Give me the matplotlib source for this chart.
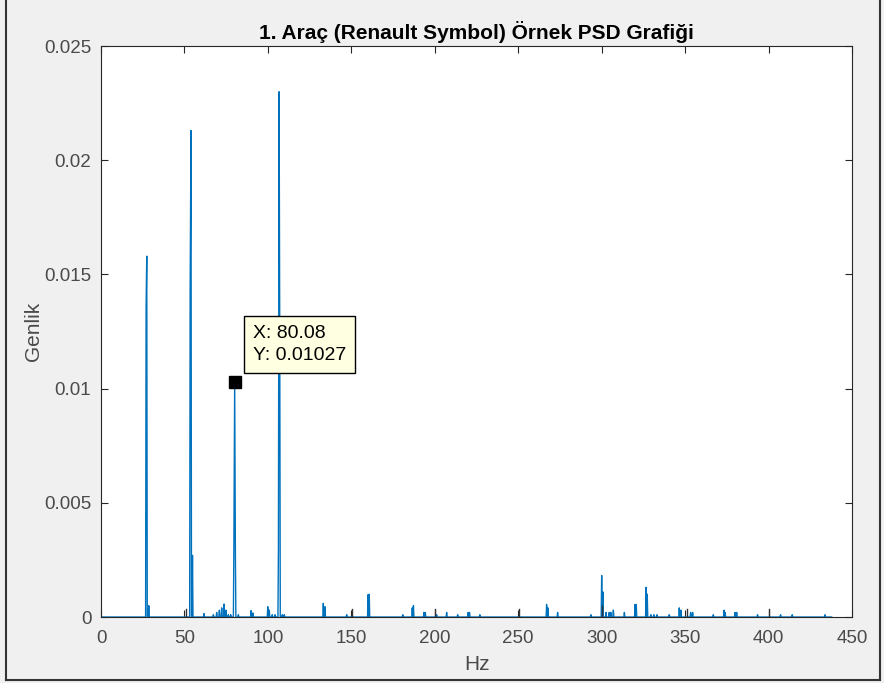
import matplotlib
matplotlib.use('Agg')
import matplotlib.pyplot as plt
from matplotlib.lines import Line2D

# PSD peaks (Hz, amplitude)
peak_hz = [27.0, 27.4, 28.6, 53.4, 53.9, 54.8, 61.7, 67.3, 69.3, 70.9, 72.3, 73.7,
           74.9, 76.3, 77.7, 79.6, 80.08, 80.5, 82.3, 89.9, 91.0, 99.9, 100.8,
           102.6, 104.3, 106.3, 106.7, 107.1, 108.6, 109.8, 133.2, 134.2, 147.2,
           160.0, 160.7, 180.8, 186.5, 187.2, 193.5, 194.3, 201.1, 207.1, 213.7,
           220.0, 220.8, 227.0, 267.0, 267.8, 273.6, 293.6, 300.0, 300.7, 302.6,
           304.5, 305.5, 307.0, 313.6, 320.0, 320.7, 326.6, 327.3, 329.5, 331.3,
           333.1, 340.5, 346.5, 347.5, 353.3, 354.5, 366.9, 373.3, 374.0, 379.9,
           380.9, 393.4, 407.2, 414.2, 433.8]
peak_amp = [0.0136, 0.0158, 0.0005, 0.0144, 0.0213, 0.0027, 0.00015, 0.0001, 0.0002,
            0.0003, 0.0004, 0.00057, 0.0003, 0.0001, 0.0001, 0.0031, 0.01027, 0.0028,
            0.0001, 0.00028, 0.00018, 0.00045, 0.0003, 0.0001, 0.0001, 0.0030,
            0.0230, 0.0118, 0.0001, 0.0001, 0.0006, 0.00045, 0.0001, 0.00098, 0.0010,
            0.0001, 0.0004, 0.0005, 0.0002, 0.0002, 0.0001, 0.0002, 0.0001, 0.0002,
            0.0002, 0.0001, 0.00055, 0.0004, 0.0002, 0.0001, 0.00182, 0.0011, 0.0002,
            0.0002, 0.0002, 0.0003, 0.0002, 0.00055, 0.00055, 0.0013, 0.0010, 0.0001,
            0.0001, 0.0001, 0.0001, 0.0004, 0.0003, 0.0002, 0.0002, 0.0001, 0.0003,
            0.0002, 0.0002, 0.0002, 0.0001, 0.0001, 0.0001, 0.0001]
f_end = 437.8

# mains harmonics drawn in dark
mains_hz = [50.7, 150.6, 200.1, 250.6, 300.2, 350.9, 400.4]
mains_amp = [0.00034, 0.00035, 0.00035, 0.00035, 0.0005, 0.00035, 0.00035]

tip_x, tip_y = 80.08, 0.01027


def spectrum(freqs, amps, end):
    xs, ys = [0.0], [0.0]
    for f, a in sorted(zip(freqs, amps)):
        if f - xs[-1] > 0.6:
            xs += [xs[-1] + 0.3, f - 0.3]
            ys += [0.0, 0.0]
        xs.append(f)
        ys.append(a)
    xs += [xs[-1] + 0.3, end]
    ys += [0.0, 0.0]
    return xs, ys


plt.rcParams['font.family'] = ['Liberation Sans', 'DejaVu Sans']
dark = '#262626'
label_grey = '#4a4a4a'

fig = plt.figure(figsize=(8.84, 6.83), dpi=100, facecolor='#F0F0F0')
ax = fig.add_axes([0.1143, 0.0966, 0.8495, 0.836])

x, y = spectrum(peak_hz, peak_amp, f_end)
ax.plot(x, y, color='#0072BD', lw=1.0)
for f, a in zip(mains_hz, mains_amp):
    ax.plot([f, f], [0, a], color='#333333', lw=1.0)

ax.set_xlim(0, 450)
ax.set_ylim(0, 0.025)
ax.set_xticks(range(0, 451, 50))
ax.set_yticks([0, 0.005, 0.01, 0.015, 0.02, 0.025])
ax.set_yticklabels(['0', '0.005', '0.01', '0.015', '0.02', '0.025'])
ax.tick_params(direction='in', top=True, right=True, length=5, width=0.8,
               colors=dark, labelcolor=label_grey, labelsize=13.5)
ax.tick_params(axis='x', pad=9)
ax.tick_params(axis='y', pad=7)
for s in ax.spines.values():
    s.set_color(dark)
    s.set_linewidth(0.8)

ax.set_xlabel('Hz', fontsize=15, color=label_grey, labelpad=6)
ax.set_ylabel('Genlik', fontsize=15, color=label_grey, labelpad=1)
ax.set_title('1. Araç (Renault Symbol) Örnek PSD Grafiği', fontsize=15,
             fontweight='bold', color='black', pad=5)

# data tip
ax.plot([tip_x], [tip_y], 's', color='black', ms=9)
ax.annotate(f'X: {tip_x:.2f}\nY: {tip_y:.5f}', xy=(tip_x, tip_y),
            xytext=(18, 18), textcoords='offset pixels', ha='left', va='bottom',
            fontsize=14, linespacing=1.45,
            bbox=dict(boxstyle='square,pad=0.45', fc='#FFFFE1', ec='black', lw=1))

# outer frame
for xs_, ys_ in [([6/884, 6/884], [3/683, 1]), ([6/884, 880/884], [3/683, 3/683]),
                 ([880/884, 880/884], [3/683, 1])]:
    fig.add_artist(Line2D(xs_, ys_, color='#333333', lw=1.5))

fig.savefig('out.png', dpi=100, facecolor=fig.get_facecolor())
